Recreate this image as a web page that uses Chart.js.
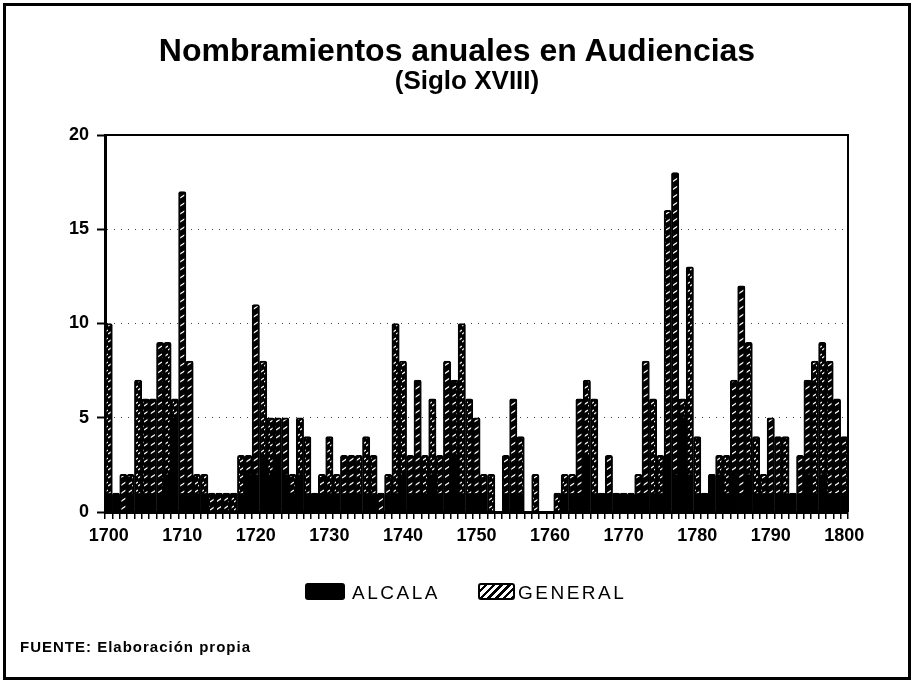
<!DOCTYPE html>
<html>
<head>
<meta charset="utf-8">
<script src="https://cdn.jsdelivr.net/npm/chart.js@4.4.0/dist/chart.umd.min.js"></script>
<style>
  html, body { margin: 0; padding: 0; background: #fff; }
  #page { position: relative; width: 914px; height: 684px; overflow: hidden;
          font-family: "Liberation Sans", Arial, sans-serif; color: #000; }
  #frame { position: absolute; left: 3px; top: 3px; right: 3px; bottom: 4px; border: 3px solid #000; }
  #chartBox { position: absolute; left: 0; top: 0; width: 914px; height: 684px; }
  .txt { position: absolute; white-space: nowrap; font-weight: bold; }
  #title { left: 0; width: 914px; top: 34px; text-align: center; font-size: 32px; line-height: 32px; }
  #subtitle { left: 10px; width: 914px; top: 67px; text-align: center; font-size: 26px; line-height: 26px; }
  .sw { position: absolute; top: 583px; height: 17px; border-radius: 3px; box-sizing: border-box; }
  #swAlc { left: 305px; width: 40px; background: #000; }
  #swGen { left: 478px; width: 37px; border: 2px solid #000;
           background: repeating-linear-gradient(135deg, #fff 0 3px, #000 3px 5.5px); }
  .lt { position: absolute; top: 583px; font-size: 19px; line-height: 19px; letter-spacing: 2.5px; font-weight: normal; }
  #ltAlc { left: 352px; }
  #ltGen { left: 518px; }
  #footer { left: 20px; top: 639px; font-size: 15px; line-height: 15px; letter-spacing: 1px; }
</style>
</head>
<body>
<div id="page">
  <div id="chartBox"><canvas id="chart" width="914" height="684"></canvas></div>
  <div id="title" class="txt">Nombramientos anuales en Audiencias</div>
  <div id="subtitle" class="txt">(Siglo XVIII)</div>
  <span id="swAlc" class="sw"></span><span id="ltAlc" class="lt">ALCALA</span>
  <span id="swGen" class="sw"></span><span id="ltGen" class="lt">GENERAL</span>
  <div id="footer" class="txt">FUENTE: Elaboración propia</div>
  <div id="frame"></div>
</div>
<script>
// Años (categorías)
const years = [
  '1700','1701','1702','1703','1704','1705','1706','1707','1708','1709',
  '1710','1711','1712','1713','1714','1715','1716','1717','1718','1719',
  '1720','1721','1722','1723','1724','1725','1726','1727','1728','1729',
  '1730','1731','1732','1733','1734','1735','1736','1737','1738','1739',
  '1740','1741','1742','1743','1744','1745','1746','1747','1748','1749',
  '1750','1751','1752','1753','1754','1755','1756','1757','1758','1759',
  '1760','1761','1762','1763','1764','1765','1766','1767','1768','1769',
  '1770','1771','1772','1773','1774','1775','1776','1777','1778','1779',
  '1780','1781','1782','1783','1784','1785','1786','1787','1788','1789',
  '1790','1791','1792','1793','1794','1795','1796','1797','1798','1799',
  '1800'
];

// Nombramientos en general
const general = [
  10, 1, 2, 2, 7, 6, 6, 9, 9, 6,
  17, 8, 2, 2, 1, 1, 1, 1, 3, 3,
  11, 8, 5, 5, 5, 2, 5, 4, 1, 2,
  4, 2, 3, 3, 3, 4, 3, 1, 2, 10,
  8, 3, 7, 3, 6, 3, 8, 7, 10, 6,
  5, 2, 2, 0, 3, 6, 4, 0, 2, 0,
  0, 1, 2, 2, 6, 7, 6, 1, 3, 1,
  1, 1, 2, 8, 6, 3, 16, 18, 6, 13,
  4, 1, 2, 3, 3, 7, 12, 9, 4, 2,
  5, 4, 4, 1, 3, 7, 8, 9, 8, 6,
  4
];

// Nombramientos de Alcalá
const alcala = [
  1, 1, 0, 1, 1, 1, 1, 1, 2, 5,
  1, 1, 1, 1, 0, 0, 0, 0, 1, 2,
  2, 3, 2, 3, 2, 1, 2, 1, 1, 1,
  1, 1, 1, 1, 1, 1, 1, 0, 1, 1,
  2, 1, 1, 1, 2, 1, 1, 3, 1, 1,
  1, 1, 0, 0, 1, 1, 1, 0, 0, 0,
  0, 0, 1, 1, 1, 3, 1, 1, 1, 1,
  1, 1, 1, 1, 1, 1, 3, 2, 5, 2,
  1, 1, 2, 2, 1, 2, 1, 2, 1, 1,
  1, 1, 1, 1, 1, 2, 1, 2, 1, 1,
  1
];

const yTicks = [0, 5, 10, 15, 20];
const decadeLabels = ['1700','1710','1720','1730','1740','1750','1760','1770','1780','1790','1800'];

const ctx = document.getElementById('chart').getContext('2d');

// Trama de las barras: negro con rayitas blancas
function makeHatch() {
    const c = document.createElement('canvas');
    c.width = 6;
    c.height = 8;
    const g = c.getContext('2d');
    g.fillStyle = '#000';
    g.fillRect(0, 0, 6, 8);
    g.strokeStyle = '#fff';
    g.lineWidth = 1.4;
    g.beginPath();
    g.moveTo(0, 6);
    g.lineTo(6, 2);
    g.stroke();
    return ctx.createPattern(c, 'repeat');
}

// Marco superior y derecho del área
const plotFrame = {
    id: 'plotFrame',
    afterDatasetsDraw(chart) {
        const a = chart.chartArea;
        const c = chart.ctx;
        c.save();
        c.strokeStyle = '#000';
        c.lineWidth = 2;
        c.beginPath();
        c.moveTo(a.left, a.top);
        c.lineTo(a.right, a.top);
        c.lineTo(a.right, a.bottom);
        c.stroke();
        c.restore();
    }
};

new Chart(ctx, {
    type: 'bar',
    data: {
        labels: years,
        datasets: [
            {
                label: 'ALCALA',
                data: alcala,
                backgroundColor: '#000',
                borderWidth: 0,
                grouped: false,
                categoryPercentage: 1,
                barPercentage: 0.8
            },
            {
                label: 'GENERAL',
                data: general,
                backgroundColor: makeHatch(),
                borderColor: '#000',
                borderWidth: 2,
                borderRadius: { topLeft: 2, topRight: 2 },
                grouped: false,
                categoryPercentage: 1,
                barPercentage: 1
            }
        ]
    },
    options: {
        responsive: false,
        animation: false,
        layout: { padding: { left: 65, right: 66, top: 135, bottom: 132 } },
        plugins: {
            legend: { display: false },
            tooltip: { enabled: false }
        },
        scales: {
            x: {
                afterFit(scale) { scale.height = 40; },
                border: { display: true, color: '#000', width: 3 },
                grid: { display: true, drawOnChartArea: false, drawTicks: true, tickLength: 7, color: '#000', lineWidth: 1.5 },
                ticks: {
                    autoSkip: false,
                    maxRotation: 0,
                    padding: 6,
                    color: '#000',
                    font: { family: 'Liberation Sans', size: 18, weight: 'bold' },
                    callback(val) {
                        const lab = this.getLabelForValue(val);
                        return decadeLabels.includes(lab) ? lab : '';
                    }
                }
            },
            y: {
                min: 0,
                max: 20,
                afterFit(scale) { scale.width = 40; },
                afterBuildTicks(scale) { scale.ticks = yTicks.map(v => ({ value: v })); },
                border: { display: true, color: '#000', width: 3, dash: [1, 6] },
                grid: {
                    color: c => (c.tick && c.tick.value > 0 && c.tick.value < 20) ? '#444' : 'rgba(0,0,0,0)',
                    lineWidth: 1,
                    tickLength: 8,
                    tickColor: '#000',
                    tickWidth: 2,
                    tickBorderDash: []
                },
                ticks: {
                    padding: 8,
                    color: '#000',
                    font: { family: 'Liberation Sans', size: 18, weight: 'bold' }
                }
            }
        }
    },
    plugins: [plotFrame]
});
</script>
</body>
</html>
